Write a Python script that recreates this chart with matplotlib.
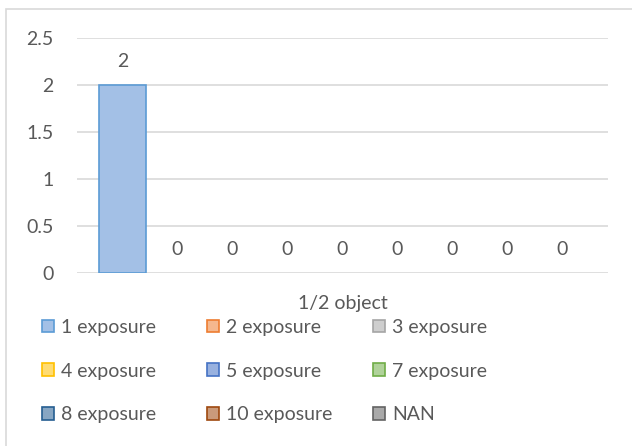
import numpy as np
import matplotlib.pyplot as plt
from matplotlib.patches import Rectangle, Patch
from matplotlib.colors import to_rgb

category = '1/2 object'
series = ['1 exposure', '2 exposure', '3 exposure', '4 exposure', '5 exposure',
          '7 exposure', '8 exposure', '10 exposure', 'NAN']
values = [2, 0, 0, 0, 0, 0, 0, 0, 0]
edge_colors = ['#5B9BD5', '#ED7D31', '#A5A5A5', '#FFC000', '#4472C4',
               '#70AD47', '#255E91', '#9E480E', '#636363']
y_ticks = [0, 0.5, 1, 1.5, 2, 2.5]
y_tick_labels = ['0', '0.5', '1', '1.5', '2', '2.5']

TEXT = '#595959'
GRID = '#D9D9D9'
FS = 14


def lighten(c, amt=0.5):
    r, g, b = to_rgb(c)
    return (r + (1 - r) * amt, g + (1 - g) * amt, b + (1 - b) * amt)


plt.rcParams['font.family'] = ['Lato', 'DejaVu Sans']

fig = plt.figure(figsize=(6.32, 4.46), dpi=100)
ax = fig.add_axes([0.1218, 0.388, 0.8402, 0.5268])

# chart border
fig.patches.append(Rectangle((6 / 632, -0.1), 1.0, 1 - 9 / 446 + 0.1,
                             transform=fig.transFigure, fill=False,
                             edgecolor=GRID, linewidth=1.2))

n = len(series)
slot = 55 / 531
bar_w = 47 / 531
xs = 0.5 + (np.arange(n) - (n - 1) / 2) * slot
fills = [lighten(c, 0.45) for c in edge_colors]
fills[0] = '#A3C0E6'

for i in range(n):
    lw = 1.2 if values[i] > 0 else 0
    ax.bar(xs[i], values[i], width=bar_w, color=fills[i],
           edgecolor=edge_colors[i], linewidth=lw, zorder=3)
    ax.annotate(str(values[i]), (xs[i], values[i]), xytext=(0, 11),
                textcoords='offset points', ha='center', va='bottom',
                color=TEXT, fontsize=FS)

ax.set_xlim(0, 1)
ax.set_ylim(0, 2.5)
ax.set_yticks(y_ticks)
ax.set_yticklabels(y_tick_labels)
ax.set_xticks([])
ax.yaxis.grid(True, color=GRID, linewidth=1.2)
ax.set_axisbelow(True)
for s in ['top', 'right', 'left', 'bottom']:
    ax.spines[s].set_visible(False)
ax.tick_params(axis='y', length=0, pad=17, labelsize=FS, labelcolor=TEXT)

ax.set_xlabel(category, fontsize=FS, color=TEXT, labelpad=16)

# legend, three columns filled row by row
col_x = [42, 207, 373]
for c in range(3):
    idx = [c, c + 3, c + 6]
    handles = [Patch(facecolor=fills[i], edgecolor=edge_colors[i], linewidth=1.2)
               for i in idx]
    fig.legend(handles, [series[i] for i in idx], loc='upper left',
               bbox_to_anchor=(col_x[c] / 632, (446 - 319) / 446),
               frameon=False, fontsize=FS, labelcolor=TEXT,
               borderpad=0, borderaxespad=0,
               handlelength=0.62, handleheight=0.62, handletextpad=0.35,
               labelspacing=1.37)

fig.savefig('out.png', dpi=100)
